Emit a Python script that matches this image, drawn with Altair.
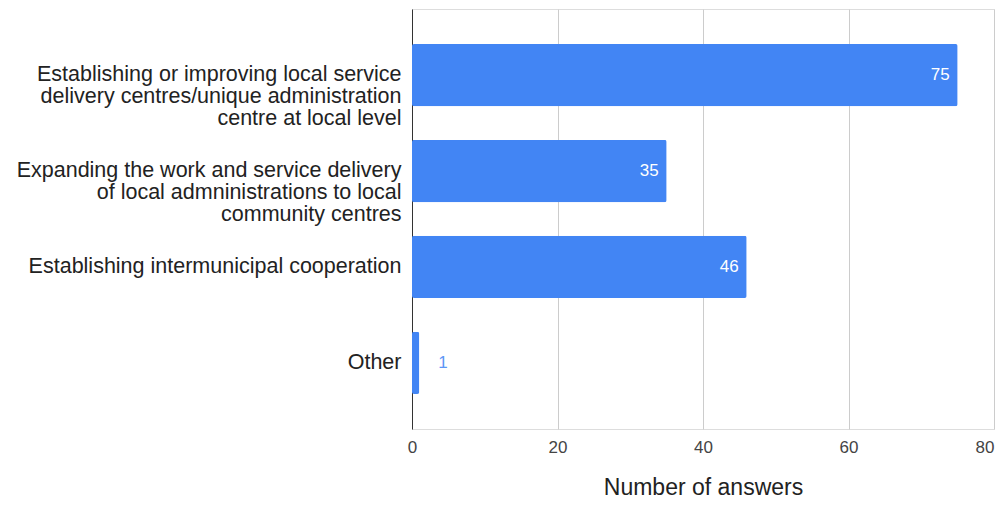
import altair as alt
import pandas as pd

categories = [
    "Establishing or improving local service|delivery centres/unique administration|centre at local level",
    "Expanding the work and service delivery|of local admninistrations to local|community centres",
    "Establishing intermunicipal cooperation",
    "Other",
]
values = [75, 35, 46, 1]
x_ticks = [0, 20, 40, 60, 80]

df = pd.DataFrame({"cat": categories, "val": values})

FONT = "Liberation Sans"

y_enc = alt.Y(
    "cat:N",
    sort=categories,
    title=None,
    scale=alt.Scale(paddingInner=0.35, paddingOuter=0.365),
    axis=alt.Axis(
        labelExpr="split(datum.label, '|')",
        labelFontSize=21.5,
        labelLineHeight=22,
        labelColor="#222222",
        labelFont=FONT,
        labelPadding=11,
        labelLimit=0,
        ticks=False,
        domainColor="#333333",
        domainWidth=1,
        grid=False,
    ),
)

x_enc = alt.X(
    "val:Q",
    scale=alt.Scale(domain=[0, 80], nice=False),
    axis=alt.Axis(
        values=x_ticks,
        title="Number of answers",
        titleFont=FONT,
        titleFontSize=23,
        titleFontWeight="normal",
        titleColor="#222222",
        titlePadding=21,
        labelFont=FONT,
        labelFontSize=17,
        labelColor="#444444",
        labelPadding=10,
        labelFlush=False,
        labelAlign={"expr": "datum.value == 80 ? 'right' : 'center'"},
        ticks=False,
        domain=False,
        grid=True,
        gridColor="#cccccc",
        gridWidth=1,
    ),
)

bars = alt.Chart(df).mark_bar(color="#4285F4", cornerRadius=2).encode(x=x_enc, y=y_enc)

inside = alt.Chart(df).transform_filter("datum.val >= 10").mark_text(
    align="right", baseline="middle", dx=-8, color="white", font=FONT, fontSize=17
).encode(x="val:Q", y=alt.Y("cat:N", sort=categories), text="val:Q")

outside = alt.Chart(df).transform_filter("datum.val < 10").mark_text(
    align="left", baseline="middle", dx=19, color="#5e97f6", font=FONT, fontSize=17
).encode(x="val:Q", y=alt.Y("cat:N", sort=categories), text="val:Q")

chart = (
    alt.layer(bars, inside, outside)
    .properties(
        width=582,
        height=420,
        autosize=alt.AutoSizeParams(type="none"),
        padding={"left": 404, "top": 1, "right": 1, "bottom": 73},
    )
    .configure_view(stroke=None)
    .configure(background="white")
)

chart.save("out.html", embed_options={"renderer": "svg", "actions": False})
